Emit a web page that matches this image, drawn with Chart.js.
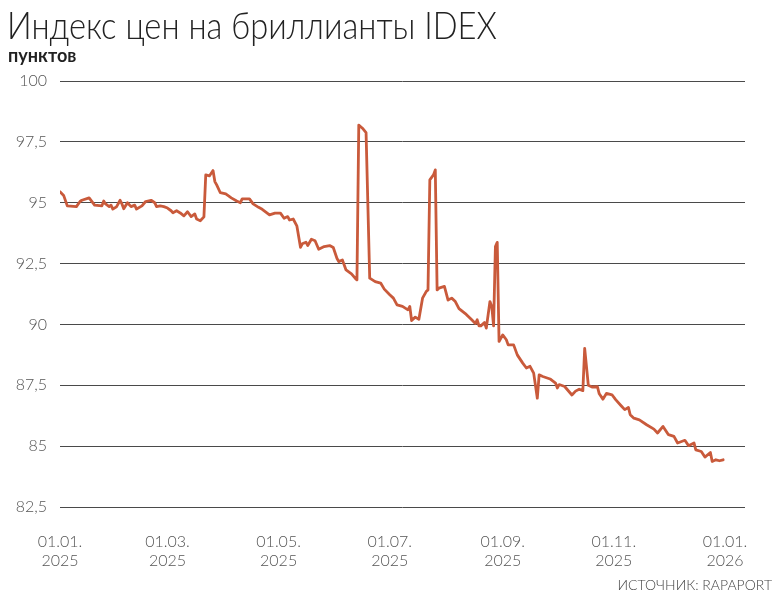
<!DOCTYPE html>
<html>
<head>
<meta charset="utf-8">
<script src="https://cdn.jsdelivr.net/npm/chart.js@4/dist/chart.umd.min.js"></script>
<style>
  html, body { margin: 0; padding: 0; background: #fff; }
  #wrap { position: relative; width: 781px; height: 606px; overflow: hidden; }
  #c { position: absolute; left: 0; top: 0; }
  .t { position: absolute; white-space: nowrap; font-family: Lato, "Open Sans", sans-serif; }
  #title { left: 7px; top: 2px; font-size: 38px; font-weight: 300; color: #222; line-height: 44px; transform: scaleX(0.86); transform-origin: 0 0; }
  #unit { left: 8px; top: 43px; font-size: 19px; font-weight: 700; color: #222; line-height: 24px; transform: scaleX(0.95); transform-origin: 0 0; }
  #src { right: 9px; top: 576px; font-size: 14px; font-weight: 300; color: #444; line-height: 18px; }
</style>
</head>
<body>
<div id="wrap">
  <canvas id="c" width="781" height="606"></canvas>
  <div class="t" id="title">Индекс цен на бриллианты IDEX</div>
  <div class="t" id="unit">пунктов</div>
  <div class="t" id="src">ИСТОЧНИК: RAPAPORT</div>
</div>
<script>
// Day offsets since 01.01.2025
const dayOfYear2025 = [
  0,2,4,9,11,12,16,19,23,24,25,27,28,29,31,33,34,35,37,39,41,42,45,47,50,52,53,55,57,59,
  61,62,64,66,68,70,72,74,75,77,79,80,82,84,85,86,88,91,94,97,99,100,104,106,109,111,115,118,121,123,
  125,126,128,130,132,133,135,136,138,140,142,145,148,150,152,153,155,157,160,162,163,164,166,168,170,173,176,178,181,183,
  185,188,191,192,193,195,197,199,201,202,203,205,206,207,208,211,213,215,217,219,223,226,228,229,230,231,233,234,236,237,
  238,239,240,241,243,245,246,249,251,254,256,258,260,262,263,265,269,272,273,274,277,281,283,285,287,288,290,292,295,296,
  298,300,303,305,308,310,312,313,315,318,322,326,328,331,334,337,339,343,345,348,349,352,354,357,358,360,362,364
];
// IDEX index values, points
const idexValues = [
  95.45,95.3,94.87,94.84,95.05,95.1,95.2,94.9,94.87,95.07,94.95,94.84,94.9,94.74,94.83,95.1,94.95,94.75,95.0,94.84,94.9,94.74,94.87,95.05,95.1,95.0,94.84,94.87,94.84,94.78,
  94.67,94.59,94.67,94.58,94.46,94.63,94.43,94.54,94.33,94.26,94.42,96.14,96.1,96.32,95.87,95.73,95.41,95.36,95.2,95.07,95.0,95.16,95.16,94.95,94.81,94.73,94.5,94.57,94.57,94.36,
  94.43,94.29,94.33,94.05,93.17,93.31,93.38,93.24,93.5,93.44,93.09,93.2,93.24,93.16,92.72,92.58,92.65,92.24,92.08,91.9,91.83,98.19,98.06,97.88,91.9,91.76,91.7,91.45,91.22,91.08,
  90.8,90.74,90.6,90.74,90.16,90.3,90.21,91.08,91.35,91.42,95.94,96.14,96.35,91.42,91.49,91.56,91.0,91.08,90.94,90.65,90.41,90.19,90.04,90.19,89.94,89.94,90.08,89.85,90.94,90.74,
  89.94,93.2,93.37,89.3,89.57,89.37,89.16,89.16,88.75,88.41,88.21,88.28,88.0,86.97,87.93,87.86,87.76,87.59,87.39,87.53,87.45,87.1,87.26,87.34,87.28,89.02,87.5,87.43,87.44,87.15,
  86.93,87.17,87.11,86.91,86.66,86.5,86.59,86.29,86.15,86.08,85.88,85.7,85.54,85.81,85.47,85.4,85.13,85.24,85.02,85.13,84.85,84.78,84.55,84.74,84.37,84.44,84.4,84.44
];
// X tick positions (days since 01.01.2025) and labels
const xTickDays = [0, 59, 120, 181, 243, 304, 365];
const xTickLabels = [['01.01.','2025'],['01.03.','2025'],['01.05.','2025'],['01.07.','2025'],['01.09.','2025'],['01.11.','2025'],['01.01.','2026']];
// Y axis
const yMin = 82.5, yMax = 100, yStep = 2.5;

const points = dayOfYear2025.map((d, i) => ({ x: d, y: idexValues[i] }));

new Chart(document.getElementById('c'), {
  type: 'line',
  data: {
    datasets: [{
      data: points,
      borderColor: '#c95a3b',
      borderWidth: 2.8,
      pointRadius: 0,
      tension: 0,
      fill: false,
      borderJoinStyle: 'round',
      borderCapStyle: 'round'
    }]
  },
  options: {
    responsive: false,
    animation: false,
    events: [],
    layout: { padding: { top: 81, right: 36, bottom: 0, left: 0 } },
    plugins: { legend: { display: false }, tooltip: { enabled: false }, title: { display: false } },
    scales: {
      x: {
        type: 'linear',
        min: 0,
        max: 376,
        grid: { display: false },
        border: { display: false },
        afterBuildTicks: (scale) => { scale.ticks = xTickDays.map(v => ({ value: v })); },
        afterFit: (scale) => { scale.height = 99; },
        ticks: {
          autoSkip: false,
          maxRotation: 0,
          minRotation: 0,
          padding: 18,
          color: '#555',
          font: { family: 'Lato, "Open Sans", sans-serif', size: 16, weight: '300', lineHeight: 1.15 },
          callback: (v) => { const i = xTickDays.indexOf(v); return i >= 0 ? xTickLabels[i] : ''; }
        }
      },
      y: {
        min: yMin,
        max: yMax,
        grid: { color: '#4a4a4a', lineWidth: 1, drawTicks: false },
        border: { display: false },
        afterFit: (scale) => { scale.width = 60; },
        ticks: {
          stepSize: yStep,
          padding: 13,
          color: '#555',
          font: { family: 'Lato, "Open Sans", sans-serif', size: 16, weight: '300' },
          callback: (v) => String(v).replace('.', ',')
        }
      }
    }
  }
});
</script>
</body>
</html>
